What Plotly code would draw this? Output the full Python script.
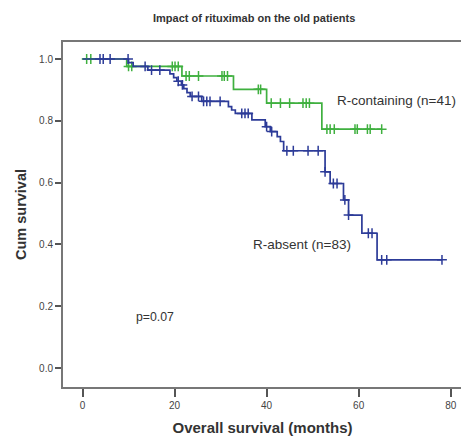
import numpy as np
import plotly.graph_objects as go

# Kaplan-Meier step data (months, cumulative survival)
green_times = [0, 9.6, 21.6, 32.8, 40.0, 52.0, 65.0]
green_surv = [1.0, 0.976, 0.945, 0.902, 0.857, 0.773, 0.773]
green_censored = [0.9, 1.8, 10.0, 10.7, 19.5, 20.1, 20.8, 22.5, 23.2, 25.2,
                  30.3, 30.8, 31.5, 38.2, 38.7, 41.0, 43.0, 45.0, 47.9, 48.6,
                  49.3, 53.1, 53.8, 54.7, 59.2, 59.7, 61.9, 62.5, 65.0]

blue_times = [0, 10.0, 11.0, 14.2, 19.0, 19.8, 20.5, 21.5, 22.0, 22.7, 23.4,
              25.9, 31.7, 32.4, 33.2, 36.8, 39.7, 40.8, 42.3, 43.0, 43.7,
              52.7, 53.8, 56.7, 57.8, 60.7, 64.0, 78.1]
blue_surv = [1.0, 0.988, 0.976, 0.964, 0.952, 0.940, 0.928, 0.916, 0.904,
             0.891, 0.879, 0.863, 0.846, 0.835, 0.824, 0.803, 0.781, 0.765,
             0.749, 0.733, 0.703, 0.635, 0.597, 0.544, 0.495, 0.436, 0.350,
             0.350]
blue_censored = [3.8, 4.5, 6.0, 9.9, 13.6, 15.0, 16.8, 20.8, 21.7, 23.8, 25.2,
                 26.3, 27.0, 27.7, 29.9, 34.6, 35.3, 36.0, 40.0, 41.1, 44.4,
                 45.8, 49.0, 51.2, 52.7, 54.5, 55.3, 57.0, 57.8, 62.1, 62.9,
                 65.0, 66.1, 78.1]

x_ticks = [0, 20, 40, 60, 80]
y_ticks = [0.0, 0.2, 0.4, 0.6, 0.8, 1.0]

GREEN = '#3fb03f'
BLUE = '#2c3b98'
FONT = 'Liberation Sans, Arial, sans-serif'

# the page body adds an 8px margin, so the figure is 8px smaller than the window
W, H = 461, 434


def level_at(times, surv, t):
    idx = np.searchsorted(np.array(times), t, side='right') - 1
    return surv[max(idx, 0)]


def add_curve(fig, name, times, surv, censored, color):
    fig.add_trace(go.Scatter(
        name=name, x=times, y=surv, mode='lines',
        line=dict(color=color, width=1.7, shape='hv'),
        showlegend=False, hoverinfo='skip'
    ))
    fig.add_trace(go.Scatter(
        name=name + ' censored', x=censored,
        y=[level_at(times, surv, t) for t in censored],
        mode='markers',
        marker=dict(symbol='cross-thin', size=7, color=color,
                    line=dict(color=color, width=1.5)),
        showlegend=False, hoverinfo='skip'
    ))


fig = go.Figure()
add_curve(fig, 'R-containing', green_times, green_surv, green_censored, GREEN)
add_curve(fig, 'R-absent', blue_times, blue_surv, blue_censored, BLUE)

fig.update_layout(
    width=W, height=H,
    margin=dict(l=55, r=7, t=34, b=55),
    paper_bgcolor='white', plot_bgcolor='white',
    font=dict(family=FONT, color='#333333', size=10),
    title=dict(text='<b>Impact of rituximab on the old patients</b>',
               x=0.479, xref='paper', xanchor='center',
               y=1 - 10 / H, yanchor='middle',
               font=dict(size=11, color='#333333')),
    xaxis=dict(range=[-4.24, 82.45], tickvals=x_ticks, ticks='outside',
               ticklen=8, tickwidth=2, tickcolor='#555555',
               showline=True, linecolor='#777777', linewidth=2, mirror=True,
               showgrid=False, zeroline=False, automargin=False,
               tickfont=dict(size=10, color='#444444'),
               title=dict(text='<b>Overall survival (months)</b>',
                          font=dict(size=15, color='#333333'), standoff=12)),
    yaxis=dict(range=[-0.0615, 1.055], tickvals=y_ticks, tickformat='.1f',
               ticks='outside', ticklen=6, tickwidth=2, tickcolor='#555555',
               showline=True, linecolor='#777777', linewidth=2, mirror=True,
               showgrid=False, zeroline=False, automargin=False,
               tickfont=dict(size=10, color='#444444'),
               title=dict(text='<b>Cum survival</b>',
                          font=dict(size=14.5, color='#333333'), standoff=9)),
    annotations=[
        dict(text='R-containing (n=41)', x=54.9, y=0.867, xanchor='left',
             yanchor='middle', showarrow=False,
             font=dict(size=13.5, color='#333333')),
        dict(text='R-absent (n=83)', x=36.5, y=0.401, xanchor='left',
             yanchor='middle', showarrow=False,
             font=dict(size=13.5, color='#333333')),
        dict(text='p=0.07', x=11.2, y=0.165, xanchor='left',
             yanchor='middle', showarrow=False,
             font=dict(size=12.3, color='#333333')),
    ],
)

fig.write_html('out.html')
